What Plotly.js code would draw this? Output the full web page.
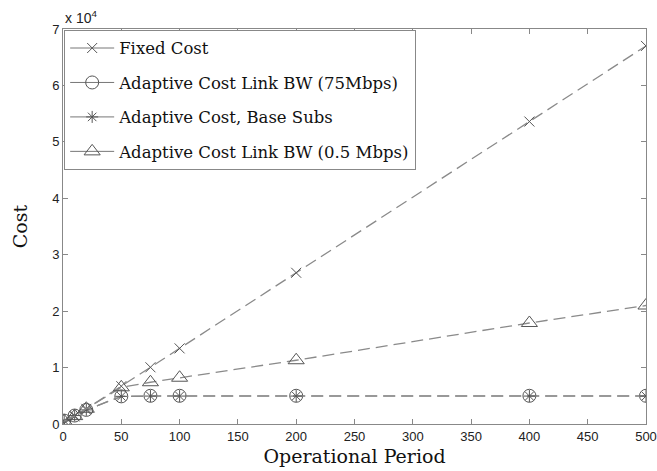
<!DOCTYPE html>
<html>
<head>
<meta charset="utf-8">
<script src="https://cdn.plot.ly/plotly-3.0.1.min.js"></script>
<style>html,body{margin:0;padding:0;background:#fff;}#chart{width:657px;height:471px;}</style>
</head>
<body>
<div id="chart"></div>
<script>
const periods = [1, 10, 20, 50, 75, 100, 200, 400, 500];
const fixedCost = [134, 1340, 2680, 6700, 10050, 13400, 26800, 53600, 67000];
const adaptive75 = [600, 1500, 2500, 4900, 5000, 5000, 5000, 5000, 5000];
const adaptiveBase = [600, 1500, 2500, 4900, 4950, 4950, 4950, 4950, 4950];
const adaptive05 = [500, 1400, 2700, 6500, 7400, 8200, 11300, 17900, 21000];
const seriesNames = ['Fixed Cost', 'Adaptive Cost Link BW (75Mbps)', 'Adaptive Cost, Base Subs', 'Adaptive Cost Link BW (0.5 Mbps)'];
const yTickVals = [0, 10000, 20000, 30000, 40000, 50000, 60000, 70000];
const yTickText = ['0', '1', '2', '3', '4', '5', '6', '7'];
const xTickVals = [0, 50, 100, 150, 200, 250, 300, 350, 400, 450, 500];

const seriesY = [fixedCost, adaptive75, adaptiveBase, adaptive05];
const symbols = [['x-thin-open', 10], ['circle-open', 13], ['asterisk-open', 10], ['triangle-up-open', 14]];
const groups = ['a', 'b', 'c', 'd'];

const mk = (sym, size) => ({symbol: sym, size: size, color: '#555', line: {color: '#555', width: 1}});

const traces = [];
seriesY.forEach((ys, i) => {
  traces.push({x: periods, y: ys, name: seriesNames[i], legendgroup: groups[i], showlegend: false,
    mode: 'lines+markers', line: {color: '#8a8a8a', width: 1.3, dash: '12px,6px'},
    marker: mk(symbols[i][0], symbols[i][1])});
});
// legend entries (solid sample lines, as in the reference legend)
seriesY.forEach((ys, i) => {
  traces.push({x: [null], y: [null], name: seriesNames[i], legendgroup: groups[i], showlegend: true,
    mode: 'lines+markers', line: {color: '#777', width: 1},
    marker: mk(symbols[i][0], symbols[i][1]), hoverinfo: 'skip'});
});

const axisCommon = {
  showline: true, linecolor: '#888', linewidth: 1, mirror: 'allticks',
  ticks: 'inside', ticklen: 5, tickcolor: '#888', showgrid: false, zeroline: false,
  tickfont: {family: 'Liberation Sans, Arial', size: 13, color: '#222'}
};

const layout = {
  width: 657, height: 471,
  margin: {l: 63, r: 11, t: 29, b: 47},
  paper_bgcolor: '#fff', plot_bgcolor: '#fff',
  showlegend: true,
  legend: {
    x: 0.002, y: 0.998, xanchor: 'left', yanchor: 'top',
    bgcolor: '#fff', bordercolor: '#888', borderwidth: 1,
    font: {family: 'DejaVu Serif, Georgia, serif', size: 16.5, color: '#111'},
    tracegroupgap: 10, itemwidth: 44, traceorder: 'grouped'
  },
  xaxis: Object.assign({}, axisCommon, {
    range: [0, 500], tickvals: xTickVals,
    title: {text: 'Operational Period', font: {family: 'DejaVu Serif, Georgia, serif', size: 19, color: '#111'}, standoff: 7}
  }),
  yaxis: Object.assign({}, axisCommon, {
    range: [0, 70000], tickvals: yTickVals, ticktext: yTickText,
    title: {text: 'Cost', font: {family: 'DejaVu Serif, Georgia, serif', size: 19, color: '#111'}, standoff: 19}
  }),
  annotations: [{
    xref: 'paper', yref: 'paper', x: 0, y: 1, xanchor: 'left', yanchor: 'bottom',
    text: 'x 10<sup>4</sup>', showarrow: false, yshift: 1,
    font: {family: 'Liberation Sans, Arial', size: 14, color: '#222'}
  }]
};

Plotly.newPlot('chart', traces, layout, {displayModeBar: false});
</script>
</body>
</html>
